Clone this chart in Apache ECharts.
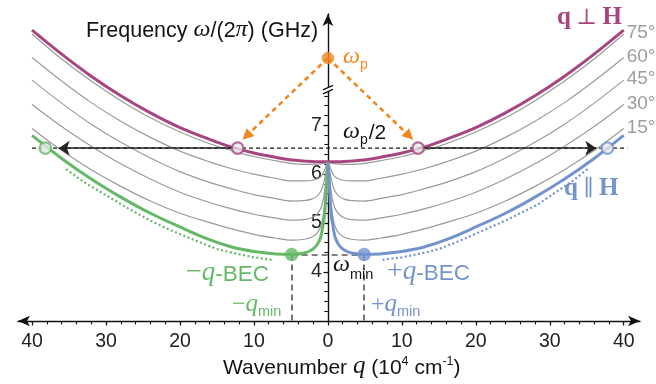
<!DOCTYPE html>
<html>
<head>
<meta charset="utf-8">
<script src="https://cdn.jsdelivr.net/npm/echarts@6.0.0/dist/echarts.min.js"></script>
<style>
html,body{margin:0;padding:0;background:#ffffff;}
#chart{width:656px;height:384px;}
</style>
</head>
<body>
<div id="chart"></div>
<script>
// ---------- values ----------
// wavenumber grid (10^4 cm^-1), right half; left half is the mirror image
const qGrid = [0, 0.1, 0.25, 0.45, 0.7, 1.0, 1.5, 2.2, 3.2, 4.9, 7, 10, 13, 16, 20, 24, 28, 32, 36, 40];
// frequency (GHz) of each branch, angle between q and H
const f0  = [6.25, 6.0, 5.6, 5.18, 4.92, 4.7, 4.55, 4.45, 4.39, 4.36, 4.37, 4.42, 4.51, 4.66, 4.92, 5.2, 5.53, 5.9, 6.32, 6.79];
const f15 = [6.25, 6.08, 5.75, 5.38, 5.1, 4.92, 4.79, 4.71, 4.67, 4.65, 4.69, 4.77, 4.88, 5.01, 5.2, 5.45, 5.75, 6.09, 6.48, 6.93];
const f30 = [6.25, 6.13, 5.9, 5.64, 5.43, 5.29, 5.18, 5.11, 5.07, 5.06, 5.1, 5.18, 5.29, 5.42, 5.63, 5.9, 6.21, 6.57, 6.97, 7.42];
const f45 = [6.25, 6.18, 6.05, 5.9, 5.75, 5.64, 5.55, 5.49, 5.46, 5.45, 5.5, 5.58, 5.7, 5.83, 6.05, 6.33, 6.65, 7.02, 7.45, 7.92];
const f60 = [6.25, 6.22, 6.16, 6.08, 6.0, 5.94, 5.9, 5.87, 5.86, 5.86, 5.91, 6.0, 6.11, 6.25, 6.47, 6.75, 7.08, 7.46, 7.9, 8.38];
const f75 = [6.25, 6.245, 6.24, 6.23, 6.22, 6.21, 6.205, 6.2, 6.2, 6.22, 6.27, 6.36, 6.48, 6.62, 6.86, 7.15, 7.5, 7.9, 8.35, 8.86];
const f90 = [6.25, 6.25, 6.25, 6.25, 6.251, 6.252, 6.254, 6.26, 6.27, 6.29, 6.34, 6.43, 6.55, 6.71, 6.95, 7.25, 7.6, 8.0, 8.45, 8.94];
const angleLabels = ['15°', '30°', '45°', '60°', '75°'];

// special points
const halfPump = 6.53;            // ω_p/2
const pumpDrawn = 8.37;           // ω_p as drawn above the axis break
const halfPumpSpan = [-40, 40.5];
const perpCrossQ = [-12.2, 12.2]; // q⊥H branch meets ω_p/2
const parCrossQ = [-38.2, 37.8];  // q∥H branch meets ω_p/2
const qMinVals = [-4.9, 4.9];
const omegaMin = 4.36;
const axisBreakAt = 7.74;

// arrows
const pumpArrowTipQ = [-11.0, 11.0];
const pumpArrowTipF = 6.78;
const scatterArrowEndQ = [-36.4, 36.3];
const greenDotQ = [-35.4, -33, -30.8, -27, -24, -21.8, -18, -15, -12.8, -10, -7.6];
const greenDotF = [6.1, 5.84, 5.64, 5.3, 5.05, 4.89, 4.65, 4.47, 4.39, 4.3, 4.25];
const blueDotQ  = [35.1, 33, 30.8, 28.4, 24, 21.6, 18, 15, 13.5, 10, 7.4];
const blueDotF  = [6.1, 5.85, 5.63, 5.38, 5.05, 4.89, 4.65, 4.47, 4.41, 4.3, 4.25];

// ticks
const xMajorTicks = [-40, -30, -20, -10, 0, 10, 20, 30, 40];
const xMinorTicks = [-40,-38,-36,-34,-32,-30,-28,-26,-24,-22,-20,-18,-16,-14,-12,-10,-8,-6,-4,-2,0,2,4,6,8,10,12,14,16,18,20,22,24,26,28,30,32,34,36,38,40];
const yMajorTicks = [4, 5, 6, 7];
const yMinorTicks = [3.2,3.4,3.6,3.8,4,4.2,4.4,4.6,4.8,5,5.2,5.4,5.6,5.8,6,6.2,6.4,6.6,6.8,7,7.2,7.4,7.6];
const xRange = [-41.9, 42.2];
const yRange = [3, 9.27];

// ---------- styling / layout ----------
const SANS = '"Liberation Sans", Arial, Helvetica, sans-serif';
const SERIF = '"Liberation Serif", "DejaVu Serif", "Times New Roman", serif';
const C = {magenta:'#a8457f', blue:'#7393cf', green:'#65b865', orange:'#f0861e',
           gray:'#9a9a9a', grayText:'#9d9d9d', ink:'#141414', dash:'#555555', fill:'#e8e8e8'};
const W = 656, GL = 18, GR = 16;
const gridW = W - GL - GR;
const yAxisShift = -(0 - xRange[0]) / (xRange[1] - xRange[0]) * gridW;  // place the y axis at q = 0

function side(sign, q, f){ return q.map((v,i)=>[sign*v, f[i]]); }
function both(q, f){ return side(-1,q,f).slice(1).reverse().concat(side(1,q,f)); }
function zip(q, f){ return q.map((v,i)=>[v, f[i]]); }

const SM = 0.35;
const series = [];
[f15, f30, f45, f60, f75].forEach((f, i) => {
  series.push({
    type:'line', data: both(qGrid, f), smooth:SM,
    showSymbol:false, symbol:'none', silent:true, z:2,
    lineStyle:{color:C.gray, width:1.2},
    endLabel:{show:true, formatter: angleLabels[i], color:C.grayText, fontSize:19,
              fontFamily:SANS, distance:3, offset:[0,-1]}
  });
});
series.push({type:'line', data: both(qGrid, f90), smooth:SM,
  showSymbol:false, symbol:'none', silent:true, z:3, lineStyle:{color:C.magenta, width:3}});
series.push({type:'line', data: side(-1, qGrid, f0).reverse(), smooth:SM,
  showSymbol:false, symbol:'none', silent:true, z:3, lineStyle:{color:C.green, width:3}});
series.push({type:'line', data: side(1, qGrid, f0), smooth:SM,
  showSymbol:false, symbol:'none', silent:true, z:3, lineStyle:{color:C.blue, width:3}});

// ω_p/2 dashed level
series.push({type:'line', data: halfPumpSpan.map(q=>[q, halfPump]), showSymbol:false, symbol:'none',
  silent:true, z:1, lineStyle:{color:C.ink, width:1.1, type:[4,3]}});
// ω_min and ±q_min dashed guides
series.push({type:'lines', coordinateSystem:'cartesian2d', silent:true, z:1, symbol:'none',
  lineStyle:{color:C.dash, width:1.6, type:[6,4], opacity:1},
  data:[{coords: qMinVals.map(q=>[q, omegaMin])},
        {coords: [[qMinVals[0], omegaMin],[qMinVals[0], yRange[0]]]},
        {coords: [[qMinVals[1], omegaMin],[qMinVals[1], yRange[0]]]}]});
// scattering arrows (black)
series.push({type:'lines', coordinateSystem:'cartesian2d', silent:true, z:4,
  symbol:['none','arrow'], symbolSize:11,
  lineStyle:{color:'#222', width:1.7, opacity:1},
  data: perpCrossQ.map((q,i)=>({coords:[[q, halfPump],[scatterArrowEndQ[i], halfPump]]}))});
// pump arrows (orange dashed)
series.push({type:'lines', coordinateSystem:'cartesian2d', silent:true, z:4,
  symbol:['none','triangle'], symbolSize:11,
  lineStyle:{color:C.orange, width:2.6, type:[5,4], opacity:1},
  data: pumpArrowTipQ.map(q=>({coords:[[0, pumpDrawn],[q, pumpArrowTipF]]}))});
// thermalisation arrows (dotted)
series.push({type:'lines', coordinateSystem:'cartesian2d', polyline:true, silent:true, z:4,
  symbol:['none','triangle'], symbolSize:9,
  lineStyle:{color:C.green, width:2.2, type:[2,2.5], opacity:1},
  data:[{coords: zip(greenDotQ, greenDotF)}]});
series.push({type:'lines', coordinateSystem:'cartesian2d', polyline:true, silent:true, z:4,
  symbol:['none','triangle'], symbolSize:9,
  lineStyle:{color:C.blue, width:2.2, type:[2,2.5], opacity:1},
  data:[{coords: zip(blueDotQ, blueDotF)}]});
// open circles at ω_p/2
series.push({type:'scatter', silent:true, z:6, symbolSize:11.5,
  data:[
    {value:[perpCrossQ[0], halfPump], itemStyle:{color:C.fill, borderColor:C.magenta, borderWidth:2.2}},
    {value:[perpCrossQ[1], halfPump], itemStyle:{color:C.fill, borderColor:C.magenta, borderWidth:2.2}},
    {value:[parCrossQ[0], halfPump], itemStyle:{color:C.fill, borderColor:C.green, borderWidth:2.2}},
    {value:[parCrossQ[1], halfPump], itemStyle:{color:C.fill, borderColor:C.blue, borderWidth:2.2}}
  ]});
// filled dots
series.push({type:'scatter', silent:true, z:6, symbolSize:13.5,
  data:[
    {value:[qMinVals[0], omegaMin], itemStyle:{color:C.green}},
    {value:[qMinVals[1], omegaMin], itemStyle:{color:C.blue}}
  ]});
series.push({type:'scatter', silent:true, z:6, symbolSize:12.5,
  data:[{value:[0, pumpDrawn], itemStyle:{color:C.orange}}]});

const axisLineStyle = {color:'#111', width:1.4};
const option = {
  animation:false,
  backgroundColor:'#ffffff',
  grid:{left:GL, right:GR, top:14, bottom:63, containLabel:false, outerBoundsMode:'none'},
  xAxis:[
    {type:'value', min:xRange[0], max:xRange[1], position:'bottom',
     axisLine:{show:true, onZero:false, symbol:['arrow','arrow'], symbolSize:[8,12], lineStyle:axisLineStyle},
     axisTick:{show:true, customValues:xMajorTicks, length:4.5, lineStyle:{color:'#111', width:1.2}},
     axisLabel:{show:true, customValues:xMajorTicks, formatter:v=>String(Math.abs(v)),
                fontSize:19.5, fontFamily:SANS, color:'#222', margin:11},
     splitLine:{show:false}},
    {type:'value', min:xRange[0], max:xRange[1], position:'bottom',
     axisLine:{show:false, onZero:false},
     axisTick:{show:true, customValues:xMinorTicks, length:3.5, lineStyle:{color:'#111', width:1.1}},
     axisLabel:{show:false}, splitLine:{show:false}}
  ],
  yAxis:[
    {type:'value', min:yRange[0], max:yRange[1], position:'left', offset:yAxisShift,
     axisLine:{show:true, onZero:false, symbol:['none','arrow'], symbolSize:[8,12], lineStyle:axisLineStyle},
     axisTick:{show:true, customValues:yMajorTicks, length:4.5, lineStyle:{color:'#111', width:1.2}},
     axisLabel:{show:true, customValues:yMajorTicks, fontSize:19.5, fontFamily:SANS, color:'#222', margin:6},
     splitLine:{show:false}},
    {type:'value', min:yRange[0], max:yRange[1], position:'left', offset:yAxisShift,
     axisLine:{show:false, onZero:false},
     axisTick:{show:true, customValues:yMinorTicks, length:3.5, lineStyle:{color:'#111', width:1.1}},
     axisLabel:{show:false}, splitLine:{show:false}}
  ],
  series: series
};

const chart = echarts.init(document.getElementById('chart'), null, {renderer:'canvas'});
chart.setOption(option);

// ---------- text annotations ----------
const mctx = document.createElement('canvas').getContext('2d');
function textRun(x, base, color, parts){
  const out = []; let cx = x;
  parts.forEach(p => {
    cx += p.dx || 0;
    const st = p.st || 'normal', w = p.w || 'normal';
    mctx.font = st + ' ' + w + ' ' + p.s + 'px ' + p.f;
    out.push({type:'text', z:100, silent:true, style:{text:p.t, x:cx, y: base + (p.dy||0) - 0.34*p.s,
      fill: p.c || color, fontSize:p.s, fontFamily:p.f, fontStyle:st, fontWeight:w,
      align:'left', verticalAlign:'middle'}});
    cx += mctx.measureText(p.t).width;
  });
  return out;
}
let g = [];
g = g.concat(textRun(86, 38, C.ink, [
  {t:'Frequency ', s:21.5, f:SANS}, {t:'ω', s:24, f:SERIF, st:'italic'}, {t:'/(2', s:21.5, f:SANS},
  {t:'π', s:24, f:SERIF, st:'italic'}, {t:') (GHz)', s:21.5, f:SANS}]));
g = g.concat(textRun(223, 375, C.ink, [
  {t:'Wavenumber ', s:21, f:SANS}, {t:'q', s:25, f:SERIF, st:'italic'}, {t:' (10', s:21, f:SANS},
  {t:'4', s:12.5, f:SANS, dy:-9}, {t:' cm', s:21, f:SANS}, {t:'-1', s:12.5, f:SANS, dy:-9}, {t:')', s:21, f:SANS}]));
g = g.concat(textRun(343, 65, C.orange, [
  {t:'ω', s:24, f:SERIF, st:'italic'}, {t:'p', s:14, f:SANS, dy:5}]));
g = g.concat(textRun(343, 140, C.ink, [
  {t:'ω', s:24, f:SERIF, st:'italic'}, {t:'p', s:14, f:SANS, dy:5}, {t:'/2', s:21, f:SANS, dx:1}]));
g = g.concat(textRun(333, 273, C.ink, [
  {t:'ω', s:24, f:SERIF, st:'italic'}, {t:'min', s:14.5, f:SANS, dy:7}]));
g = g.concat(textRun(186, 282, C.green, [
  {t:'−', s:28, f:SERIF}, {t:'q', s:27, f:SERIF, st:'italic'}, {t:'-BEC', s:22.5, f:SANS}]));
g = g.concat(textRun(387, 281, C.blue, [
  {t:'+', s:28, f:SERIF}, {t:'q', s:27, f:SERIF, st:'italic'}, {t:'-BEC', s:22.5, f:SANS}]));
g = g.concat(textRun(232, 313, C.green, [
  {t:'−', s:24, f:SERIF}, {t:'q', s:25, f:SERIF, st:'italic'}, {t:'min', s:14.5, f:SANS, dy:4}]));
g = g.concat(textRun(371, 313, C.blue, [
  {t:'+', s:24, f:SERIF}, {t:'q', s:25, f:SERIF, st:'italic'}, {t:'min', s:14.5, f:SANS, dy:4}]));
g = g.concat(textRun(557, 26, C.magenta, [
  {t:'q', s:25, f:SERIF, w:'bold'}, {t:' ⊥ ', s:22, f:SERIF}, {t:'H', s:25, f:SERIF, w:'bold'}]));
g = g.concat(textRun(564, 197, C.blue, [
  {t:'q', s:25, f:SERIF, w:'bold'}, {t:' ∥ ', s:22, f:SERIF}, {t:'H', s:25, f:SERIF, w:'bold'}]));

// axis break mark on the frequency axis
const bp = chart.convertToPixel({xAxisIndex:0, yAxisIndex:0}, [0, axisBreakAt]);
const bx = bp[0], by = bp[1];
g.push({type:'polygon', z:50, silent:true, shape:{points:[[bx-5, by+1],[bx+5, by-3.5],[bx+5, by+0.5],[bx-5, by+5]]},
        style:{fill:'#ffffff'}});
g.push({type:'line', z:51, silent:true, shape:{x1:bx-5, y1:by+1, x2:bx+5, y2:by-3.5}, style:{stroke:'#111', lineWidth:1.3}});
g.push({type:'line', z:51, silent:true, shape:{x1:bx-5, y1:by+5, x2:bx+5, y2:by+0.5}, style:{stroke:'#111', lineWidth:1.3}});

chart.setOption({graphic: g});
</script>
</body>
</html>
